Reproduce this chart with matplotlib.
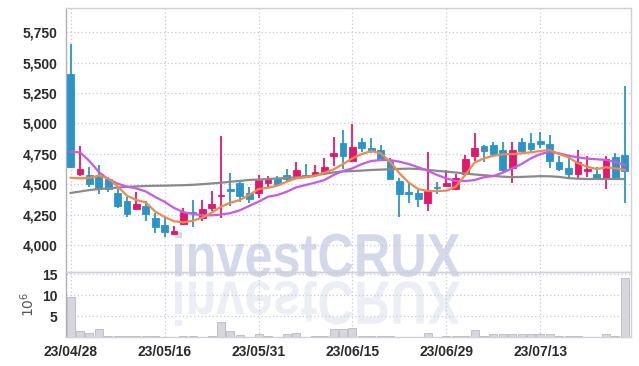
import numpy as np
import matplotlib
matplotlib.use("Agg")
import matplotlib.pyplot as plt
from matplotlib.textpath import TextPath
from matplotlib.patches import PathPatch
from matplotlib.font_manager import FontProperties
from matplotlib.transforms import Affine2D
from matplotlib.ticker import FuncFormatter

dates = ["23/04/28", "23/05/02", "23/05/03", "23/05/04", "23/05/08", "23/05/09", "23/05/10", "23/05/11", "23/05/12", "23/05/15",
         "23/05/16", "23/05/17", "23/05/18", "23/05/19", "23/05/22", "23/05/23", "23/05/24", "23/05/25", "23/05/26", "23/05/30",
         "23/05/31", "23/06/01", "23/06/02", "23/06/05", "23/06/07", "23/06/08", "23/06/09", "23/06/12", "23/06/13", "23/06/14",
         "23/06/15", "23/06/16", "23/06/19", "23/06/20", "23/06/21", "23/06/22", "23/06/23", "23/06/26", "23/06/27", "23/06/28",
         "23/06/29", "23/06/30", "23/07/03", "23/07/04", "23/07/05", "23/07/06", "23/07/07", "23/07/10", "23/07/11", "23/07/12",
         "23/07/13", "23/07/14", "23/07/17", "23/07/18", "23/07/19", "23/07/20", "23/07/21", "23/07/24", "23/07/25", "23/07/26"]

opens = [5409, 4584, 4576, 4559, 4545, 4430, 4362, 4296, 4323, 4225,
         4164, 4090, 4170, 4270, 4225, 4307, 4403, 4456, 4510, 4425,
         4430, 4512, 4548, 4576, 4548, 4576, 4573, 4590, 4732, 4836,
         4693, 4850, 4800, 4781, 4693, 4526, 4436, 4425, 4348, 4478,
         4485, 4458, 4584, 4734, 4817, 4822, 4781, 4636, 4850, 4842,
         4858, 4830, 4683, 4636, 4584, 4611, 4584, 4553, 4721, 4740]
highs = [5653, 4814, 4644, 4660, 4562, 4458, 4397, 4433, 4362, 4266,
         4219, 4156, 4302, 4370, 4370, 4444, 4896, 4595, 4520, 4480,
         4576, 4570, 4567, 4622, 4680, 4666, 4658, 4713, 4891, 4946,
         4995, 4883, 4877, 4822, 4713, 4548, 4520, 4452, 4765, 4520,
         4617, 4584, 4740, 4918, 4822, 4850, 4850, 4850, 4883, 4918,
         4932, 4905, 4732, 4713, 4781, 4732, 4644, 4732, 4754, 5308]
lows = [4630, 4570, 4480, 4417, 4436, 4302, 4228, 4296, 4197, 4101,
        4068, 4090, 4164, 4150, 4200, 4282, 4220, 4321, 4356, 4343,
        4384, 4480, 4485, 4529, 4540, 4548, 4557, 4581, 4650, 4627,
        4685, 4767, 4754, 4693, 4545, 4233, 4343, 4310, 4282, 4419,
        4485, 4452, 4576, 4691, 4685, 4726, 4603, 4507, 4759, 4759,
        4800, 4630, 4611, 4548, 4548, 4557, 4543, 4458, 4548, 4348]
closes = [4639, 4625, 4502, 4461, 4458, 4323, 4252, 4340, 4257, 4150,
          4109, 4115, 4274, 4262, 4296, 4337, 4410, 4448, 4403, 4376,
          4535, 4540, 4504, 4543, 4617, 4557, 4600, 4641, 4759, 4732,
          4808, 4800, 4773, 4705, 4545, 4419, 4419, 4376, 4442, 4470,
          4507, 4548, 4707, 4800, 4773, 4748, 4617, 4781, 4773, 4789,
          4833, 4693, 4625, 4584, 4683, 4625, 4553, 4707, 4548, 4611]

ma_short = [4553, 4548, 4553, 4570, 4548, 4480, 4405, 4370, 4350, 4275,
            4230, 4195, 4186, 4200, 4225, 4265, 4315, 4348, 4370, 4411,
            4460, 4471, 4488, 4520, 4548, 4557, 4567, 4595, 4622, 4666,
            4713, 4748, 4773, 4754, 4685, 4590, 4512, 4460, 4444, 4444,
            4447, 4480, 4576, 4677, 4713, 4734, 4746, 4748, 4754, 4762,
            4773, 4781, 4748, 4721, 4672, 4644, 4625, 4639, 4630, 4617]
ma_mid = [4765, 4762, 4690, 4600, 4540, 4505, 4480, 4465, 4440, 4395,
          4355, 4305, 4270, 4255, 4245, 4244, 4250, 4262, 4285, 4321,
          4356, 4397, 4411, 4438, 4474, 4493, 4512, 4534, 4576, 4609,
          4630, 4666, 4691, 4699, 4699, 4685, 4666, 4639, 4611, 4576,
          4548, 4526, 4526, 4534, 4557, 4567, 4595, 4630, 4666, 4713,
          4748, 4767, 4754, 4734, 4721, 4710, 4705, 4699, 4683, 4658]
ma_long = [4428, 4440, 4452, 4460, 4466, 4472, 4478, 4482, 4485, 4487,
           4488, 4490, 4492, 4495, 4500, 4506, 4512, 4520, 4527, 4535,
           4538, 4543, 4547, 4552, 4556, 4562, 4572, 4585, 4597, 4605,
           4608, 4612, 4617, 4620, 4623, 4626, 4628, 4625, 4618, 4610,
           4603, 4596, 4588, 4580, 4574, 4568, 4562, 4558, 4560, 4563,
           4566, 4565, 4560, 4550, 4545, 4543, 4543, 4543, 4543, 4543]

volume = [9.6, 1.45, 0.9, 1.85, 0.15, 0.3, 0.3, 0.15, 0.35, 0.3,
          0.1, 0.1, 0.25, 0.25, 0.1, 0.25, 3.5, 1.45, 0.4, 0.1,
          0.6, 0.15, 0.1, 0.6, 0.9, 0.1, 0.3, 0.35, 1.85, 1.85,
          2.15, 0.35, 0.35, 0.35, 0.3, 0.1, 0.1, 0.1, 0.9, 0.1,
          0.35, 0.3, 0.25, 1.6, 0.35, 0.6, 0.6, 0.6, 0.6, 0.6,
          0.6, 0.6, 0.3, 0.3, 0.3, 0.1, 0.1, 0.6, 0.35, 14.0]

price_ticks = [4000, 4250, 4500, 4750, 5000, 5250, 5500, 5750]
vol_ticks = [5, 10, 15]
label_idx = [0, 10, 20, 30, 40, 50]

up_col = "#e3176c"
down_col = "#2b95c8"
grid_col = "#c5c8de"
txt_col = "#2a2a2a"
font = ["Liberation Sans", "DejaVu Sans"]

W, H = 639, 366
fig = plt.figure(figsize=(W / 100, H / 100), dpi=100)
ax = fig.add_axes([66 / W, 1 - 272 / H, (630.5 - 66) / W, (272 - 8) / H])
axv = fig.add_axes([66 / W, 1 - 337 / H, (630.5 - 66) / W, (337 - 272) / H], sharex=ax)
for a in (ax, axv):
    a.set_facecolor("none")
    for s in a.spines.values():
        s.set_color("#d0d0d8")
        s.set_linewidth(1.0)
    a.spines["left"].set_color("#b0b0b8")

x = np.arange(len(dates))
o = np.array(opens)
c = np.array(closes)
cols = [up_col if cc >= oo else down_col for oo, cc in zip(o, c)]

# wicks then bodies
ax.vlines(x, lows, highs, colors=cols, linewidth=1.3, zorder=3)
body = np.maximum(np.abs(c - o), 10)
ax.bar(x, body, bottom=np.minimum(o, c), width=0.72, color=cols, edgecolor=cols, linewidth=0.6, zorder=4)

ax.plot(x, ma_long, color="#8a8a8a", lw=1.6, zorder=5)
ax.plot(x, ma_mid, color="#c85ae8", lw=1.6, zorder=5)
ax.plot(x, ma_short, color="#ee8a4e", lw=1.6, zorder=5)

ax.set_xlim(-0.5, 59.6)
ax.set_ylim(3778, 5949)
ax.set_yticks(price_ticks)
ax.yaxis.set_major_formatter(FuncFormatter(lambda v, p: f"{int(v):,}"))
ax.set_xticks(label_idx)
ax.grid(True, color=grid_col, linestyle=(0, (1, 2)), linewidth=0.9)
ax.set_axisbelow(True)
ax.tick_params(axis="x", labelbottom=False, length=0)
ax.tick_params(axis="y", length=0, pad=6, labelcolor=txt_col)
for t in ax.get_yticklabels():
    t.set_family(font)
    t.set_fontsize(10)
    t.set_fontweight("bold")

axv.bar(x, volume, width=0.85, color="#d6d6dc", edgecolor="#b9b9c2", linewidth=0.6, zorder=3)
axv.set_ylim(0, 15.5)
axv.set_yticks(vol_ticks)
axv.set_xticks(label_idx)
axv.set_xticklabels([dates[i] for i in label_idx])
axv.grid(True, color=grid_col, linestyle=(0, (1, 2)), linewidth=0.9)
axv.set_axisbelow(True)
axv.tick_params(length=0, pad=6, labelcolor=txt_col)
for t in axv.get_yticklabels() + axv.get_xticklabels():
    t.set_family(font)
    t.set_fontsize(10)
    t.set_fontweight("bold")
axv.set_ylabel(r"$10^6$", color="#555555", fontsize=10, labelpad=4)

# watermark with reflection
fp = FontProperties(family=font, weight="bold")
tp = TextPath((0, 0), "investCRUX", size=60, prop=fp)
ext = tp.get_extents()
x0, x1 = 175, 460
base = H - 277
top = H - 232
sx = (x1 - x0) / ext.width
sy = (top - base) / ext.height
tr = Affine2D().translate(-ext.x0, -ext.y0).scale(sx, sy).translate(x0, base)
fig.patches.append(PathPatch(tr.transform_path(tp), facecolor="#b7c0dc", edgecolor="none",
                             alpha=0.6, transform=None, zorder=1))
tr2 = Affine2D().translate(-ext.x0, -ext.y0).scale(sx, -sy).translate(x0, base - 4)
fig.patches.append(PathPatch(tr2.transform_path(tp), facecolor="#dfe3ee", edgecolor="none",
                             alpha=0.6, transform=None, zorder=1))
ax.set_zorder(2)
axv.set_zorder(2)

fig.savefig("out.png", dpi=100)
